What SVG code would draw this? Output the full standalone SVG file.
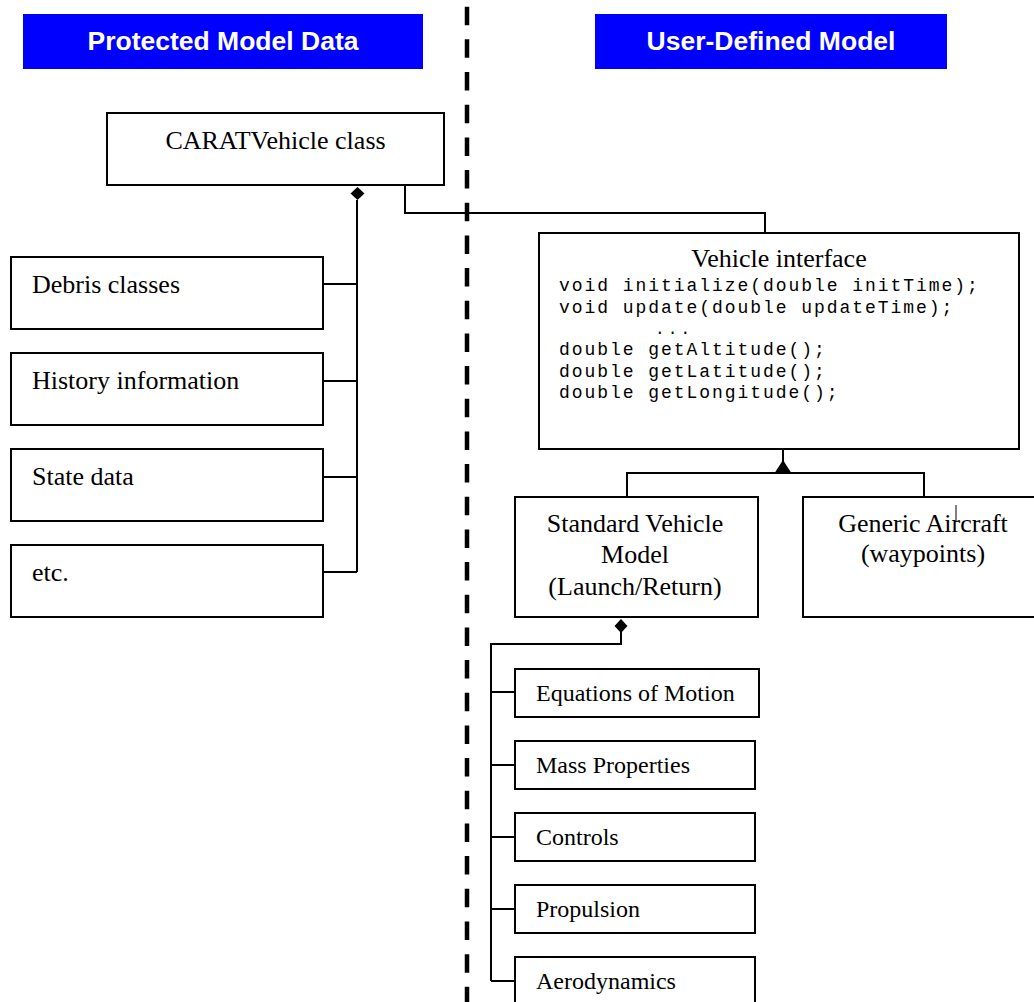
<svg xmlns="http://www.w3.org/2000/svg" width="1034" height="1002" viewBox="0 0 1034 1002">
  <style>
    .hdr { fill: #0000ff; }
    .hdr-t { font-family: "Liberation Sans", Arial, sans-serif; font-weight: bold; font-size: 26.5px; fill: #ffffff; text-anchor: middle; }
    .box { fill: #ffffff; stroke: #000000; stroke-width: 2; }
    .lbl { font-family: "Liberation Serif", "Times New Roman", serif; font-size: 26px; fill: #000000; }
    .sm { font-family: "Liberation Serif", "Times New Roman", serif; font-size: 24px; fill: #000000; }
    .mid { text-anchor: middle; }
    .code { font-family: "Liberation Mono", "Courier New", monospace; font-size: 18px; letter-spacing: 1.95px; fill: #000000; }
    .ellipsis { font-family: "Liberation Mono", "Courier New", monospace; font-size: 16px; letter-spacing: 3.2px; fill: #000000; }
    .wire { fill: none; stroke: #000000; stroke-width: 2; }
    .divider { fill: none; stroke: #000000; stroke-width: 4.5; stroke-dasharray: 18.5 14.17; }
    .dia { fill: #000000; }
  </style>

  <!-- section headers -->
  <g id="hdr-protected">
    <rect class="hdr" x="23" y="14" width="400" height="55"/>
    <text class="hdr-t" x="223" y="50">Protected Model Data</text>
  </g>
  <g id="hdr-user">
    <rect class="hdr" x="595" y="14" width="352" height="55"/>
    <text class="hdr-t" x="771" y="50">User-Defined Model</text>
  </g>

  <!-- boundary between protected and user-defined parts -->
  <line id="divider" class="divider" x1="467" y1="6.7" x2="467" y2="1002"/>

  <!-- connectors -->
  <g id="connectors">
    <!-- CARATVehicle composition -->
    <polyline class="wire" points="357,200 357,572"/>
    <line class="wire" x1="323" y1="284" x2="357" y2="284"/>
    <line class="wire" x1="323" y1="381" x2="357" y2="381"/>
    <line class="wire" x1="323" y1="477" x2="357" y2="477"/>
    <line class="wire" x1="323" y1="572" x2="357" y2="572"/>
    <polygon class="dia" points="357.5,187 364.5,193.5 357.5,200 350.5,193.5"/>
    <!-- CARATVehicle to Vehicle interface -->
    <polyline class="wire" points="405,185 405,213 765,213 765,233"/>
    <!-- Vehicle interface implementations -->
    <line class="wire" x1="783" y1="449" x2="783" y2="462"/>
    <polyline class="wire" points="627,497 627,473 924,473 924,497"/>
    <polygon class="dia" points="774,474 783,460 792,474"/>
    <!-- Standard Vehicle Model composition -->
    <polyline class="wire" points="621,632 621,644 491,644 491,981"/>
    <line class="wire" x1="491" y1="692" x2="515" y2="692"/>
    <line class="wire" x1="491" y1="765" x2="515" y2="765"/>
    <line class="wire" x1="491" y1="837" x2="515" y2="837"/>
    <line class="wire" x1="491" y1="909" x2="515" y2="909"/>
    <line class="wire" x1="491" y1="981" x2="515" y2="981"/>
    <polygon class="dia" points="621,619 627.5,626 621,633 614.5,626"/>
  </g>

  <!-- protected model data -->
  <g id="carat-vehicle">
    <rect class="box" x="107" y="113" width="337" height="72"/>
    <text class="lbl mid" x="275.5" y="149">CARATVehicle class</text>
  </g>
  <g id="debris">
    <rect class="box" x="11" y="257" width="312" height="72"/>
    <text class="lbl" x="32" y="293">Debris classes</text>
  </g>
  <g id="history">
    <rect class="box" x="11" y="353" width="312" height="72"/>
    <text class="lbl" x="32" y="389">History information</text>
  </g>
  <g id="state">
    <rect class="box" x="11" y="449" width="312" height="72"/>
    <text class="lbl" x="32" y="485">State data</text>
  </g>
  <g id="etc">
    <rect class="box" x="11" y="545" width="312" height="72"/>
    <text class="lbl" x="32" y="581">etc.</text>
  </g>

  <!-- user-defined model -->
  <g id="vehicle-interface">
    <rect class="box" x="539" y="233" width="480" height="216"/>
    <text class="lbl mid" x="779" y="267">Vehicle interface</text>
    <text class="code" x="559" y="291">void initialize(double initTime);</text>
    <text class="code" x="559" y="312.5">void update(double updateTime);</text>
    <text class="ellipsis" x="655" y="333.5">...</text>
    <text class="code" x="559" y="355">double getAltitude();</text>
    <text class="code" x="559" y="376.5">double getLatitude();</text>
    <text class="code" x="559" y="398">double getLongitude();</text>
  </g>
  <g id="standard-vehicle">
    <rect class="box" x="515" y="497" width="243" height="120"/>
    <text class="lbl mid" x="635" y="532">Standard Vehicle</text>
    <text class="lbl mid" x="635" y="563">Model</text>
    <text class="lbl mid" x="635" y="595">(Launch/Return)</text>
  </g>
  <g id="generic-aircraft">
    <rect class="box" x="803" y="497" width="250" height="120"/>
    <text class="lbl mid" x="923" y="532">Generic Aircraft</text>
    <text class="lbl mid" x="923" y="562">(waypoints)</text>
    <line x1="956" y1="505" x2="956" y2="522" stroke="#000000" stroke-width="1"/>
  </g>
  <g id="equations">
    <rect class="box" x="515" y="669" width="244" height="48"/>
    <text class="sm" x="536" y="701">Equations of Motion</text>
  </g>
  <g id="mass">
    <rect class="box" x="515" y="741" width="240" height="48"/>
    <text class="sm" x="536" y="773">Mass Properties</text>
  </g>
  <g id="controls">
    <rect class="box" x="515" y="813" width="240" height="48"/>
    <text class="sm" x="536" y="845">Controls</text>
  </g>
  <g id="propulsion">
    <rect class="box" x="515" y="885" width="240" height="48"/>
    <text class="sm" x="536" y="917">Propulsion</text>
  </g>
  <g id="aerodynamics">
    <rect class="box" x="515" y="957" width="240" height="60"/>
    <text class="sm" x="536" y="989">Aerodynamics</text>
  </g>
</svg>
